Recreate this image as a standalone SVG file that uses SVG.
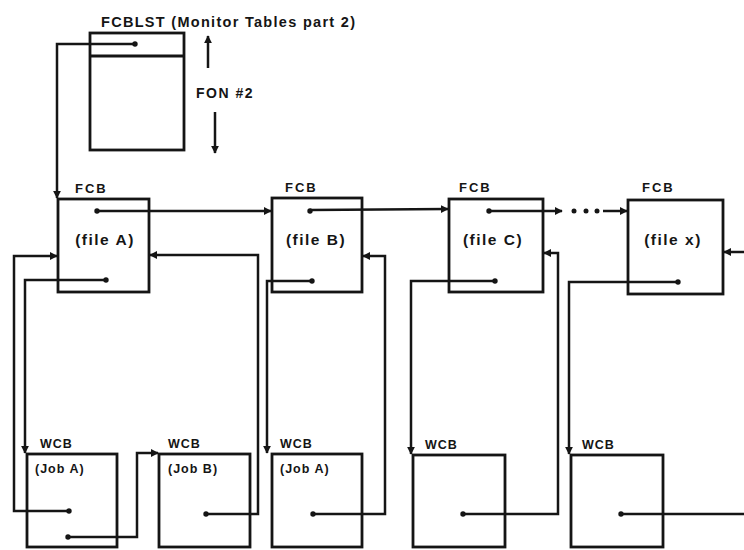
<svg xmlns="http://www.w3.org/2000/svg" width="744" height="550" viewBox="0 0 744 550">
<style>
.box{fill:none;stroke:#151515;stroke-width:2.8}
.ln{fill:none;stroke:#151515;stroke-width:2.5;stroke-linejoin:miter}
.t{font-family:"Liberation Sans",Arial,sans-serif;font-weight:bold;fill:#151515}
.lbl{font-size:13px;letter-spacing:2px}
.fl{font-size:15.5px;letter-spacing:1.5px}
.jb{font-size:12.5px;letter-spacing:1px}
.dot{fill:#151515}
</style>
<defs>
<marker id="ah" viewBox="0 0 10 10" refX="9" refY="5" markerWidth="8" markerHeight="8" markerUnits="userSpaceOnUse" orient="auto">
<path d="M0,0 L10,5 L0,10 z" fill="#151515"/>
</marker>
</defs>
<rect width="744" height="550" fill="#ffffff"/>

<g id="fcblst">
<rect class="box" x="90" y="33" width="94" height="117"/>
<line class="box" x1="90" y1="56" x2="184" y2="56"/>
<circle class="dot" cx="135" cy="44" r="2.7"/>
<text class="t" x="101" y="27" font-size="14.5" textLength="254" lengthAdjust="spacing">FCBLST (Monitor Tables part 2)</text>
<text class="t" x="196" y="98" font-size="14" letter-spacing="1.5">FON #2</text>
<line class="ln" x1="208" y1="68" x2="208" y2="36" marker-end="url(#ah)"/>
<line class="ln" x1="215" y1="112" x2="215" y2="153" marker-end="url(#ah)"/>
</g>

<g id="fcb-a">
<rect class="box" x="58" y="199" width="91" height="93"/>
<text class="t lbl" x="75" y="193">FCB</text>
<text class="t fl" x="105" y="245" text-anchor="middle">(file A)</text>
<circle class="dot" cx="97" cy="211" r="2.7"/>
<circle class="dot" cx="106" cy="280" r="2.7"/>
</g>
<g id="fcb-b">
<rect class="box" x="272" y="198" width="90" height="94"/>
<text class="t lbl" x="285" y="192">FCB</text>
<text class="t fl" x="316" y="245" text-anchor="middle">(file B)</text>
<circle class="dot" cx="310" cy="211" r="2.7"/>
<circle class="dot" cx="312" cy="281" r="2.7"/>
</g>
<g id="fcb-c">
<rect class="box" x="449" y="199" width="94" height="93"/>
<text class="t lbl" x="459" y="192">FCB</text>
<text class="t fl" x="493" y="245" text-anchor="middle">(file C)</text>
<circle class="dot" cx="489" cy="211" r="2.7"/>
<circle class="dot" cx="495" cy="281" r="2.7"/>
</g>
<g id="fcb-x">
<rect class="box" x="628" y="200" width="95" height="94"/>
<text class="t lbl" x="642" y="192">FCB</text>
<text class="t fl" x="673" y="245" text-anchor="middle">(file x)</text>
<circle class="dot" cx="678" cy="282" r="2.7"/>
</g>

<g id="wcb-1">
<rect class="box" x="27" y="454" width="90" height="93"/>
<text class="t jb" x="40" y="448">WCB</text>
<text class="t jb" x="35" y="473">(Job A)</text>
<circle class="dot" cx="69" cy="511" r="2.7"/>
<circle class="dot" cx="68" cy="537" r="2.7"/>
</g>
<g id="wcb-2">
<rect class="box" x="159" y="454" width="91" height="93"/>
<text class="t jb" x="168" y="448">WCB</text>
<text class="t jb" x="168" y="473">(Job B)</text>
<circle class="dot" cx="206" cy="514" r="2.7"/>
</g>
<g id="wcb-3">
<rect class="box" x="272" y="454" width="90" height="93"/>
<text class="t jb" x="280" y="448">WCB</text>
<text class="t jb" x="280" y="473">(Job A)</text>
<circle class="dot" cx="313" cy="514" r="2.7"/>
</g>
<g id="wcb-4">
<rect class="box" x="413" y="455" width="92" height="92"/>
<text class="t jb" x="425" y="449">WCB</text>
<circle class="dot" cx="463" cy="514" r="2.7"/>
</g>
<g id="wcb-5">
<rect class="box" x="571" y="455" width="92" height="92"/>
<text class="t jb" x="582" y="449">WCB</text>
<circle class="dot" cx="621" cy="514" r="2.7"/>
</g>

<g id="connectors">
<polyline class="ln" points="135,44 57,44 57,198" marker-end="url(#ah)"/>
<line class="ln" x1="97" y1="211" x2="271" y2="211" marker-end="url(#ah)"/>
<line class="ln" x1="310" y1="210" x2="448" y2="209" marker-end="url(#ah)"/>
<line class="ln" x1="489" y1="211" x2="562" y2="211" marker-end="url(#ah)"/>
<circle class="dot" cx="574" cy="211" r="2.5"/>
<circle class="dot" cx="586" cy="211" r="2.5"/>
<circle class="dot" cx="597" cy="211" r="2.5"/>
<line class="ln" x1="603" y1="211" x2="627" y2="211" marker-end="url(#ah)"/>
<line class="ln" x1="744" y1="252" x2="724" y2="252" marker-end="url(#ah)"/>
<polyline class="ln" points="106,280 25,280 25,453" marker-end="url(#ah)"/>
<polyline class="ln" points="69,511 14,511 14,256 57,256" marker-end="url(#ah)"/>
<polyline class="ln" points="68,537 137,537 137,453 158,453" marker-end="url(#ah)"/>
<polyline class="ln" points="206,514 258,514 258,255 150,255" marker-end="url(#ah)"/>
<polyline class="ln" points="312,281 267,281 267,453" marker-end="url(#ah)"/>
<polyline class="ln" points="313,514 385,514 385,256 363,256" marker-end="url(#ah)"/>
<polyline class="ln" points="495,281 411,281 411,454" marker-end="url(#ah)"/>
<polyline class="ln" points="463,514 558,514 558,253 544,253" marker-end="url(#ah)"/>
<polyline class="ln" points="678,282 569,282 569,454" marker-end="url(#ah)"/>
<line class="ln" x1="621" y1="514" x2="744" y2="514"/>
</g>
</svg>
